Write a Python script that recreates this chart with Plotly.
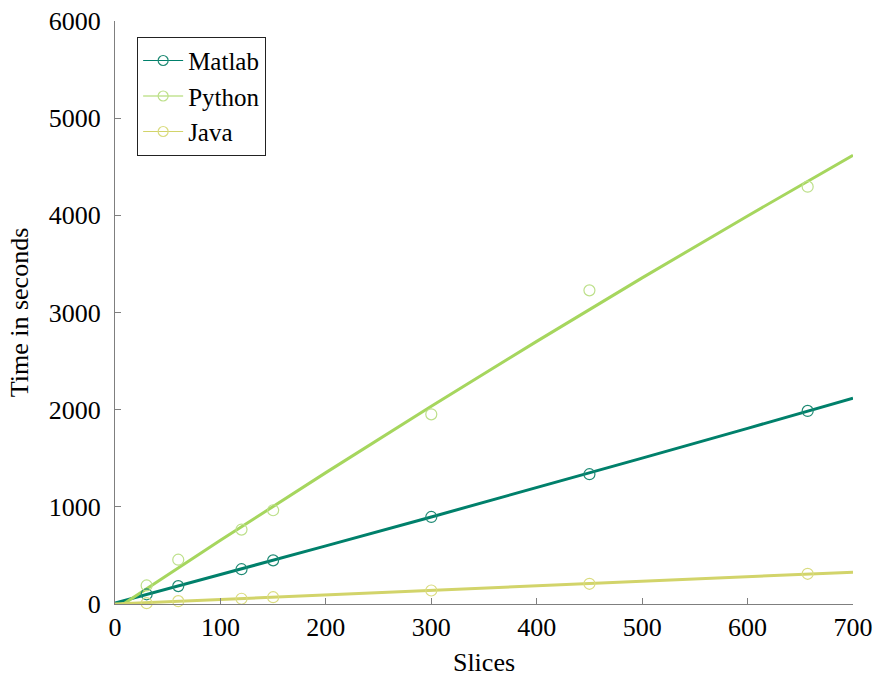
import plotly.graph_objects as go

# Measured data points
slices = [30, 60, 120, 150, 300, 450, 657]
matlab = [100, 184, 358, 449, 896, 1336, 1987]
python = [191, 456, 766, 965, 1952, 3228, 4295]
java = [8, 29, 54, 70, 139, 208, 311]

# Fit curves
fit_x = [0, 100, 200, 300, 400, 500, 600, 700]
matlab_fit = [10, 302, 598, 896, 1197, 1501, 1808, 2118]
python_fit = [-57, 655, 1352, 2035, 2703, 3356, 3994, 4618]
java_fit = [0, 47, 94, 141, 188, 235, 282, 328]

names = ["Matlab", "Python", "Java"]
line_colors = ["#00806b", "#a6d65e", "#d2d46a"]
mark_colors = ["#1f8a74", "#bde08a", "#dadc80"]

FONT = "Liberation Serif, Times New Roman, serif"
fig = go.Figure()

series = [matlab, python, java]
fits = [matlab_fit, python_fit, java_fit]

for name, ys, fy, lc, mc in zip(names, series, fits, line_colors, mark_colors):
    fig.add_trace(go.Scatter(x=fit_x, y=fy, mode="lines",
                             line=dict(color=lc, width=3),
                             showlegend=False, hoverinfo="skip"))
for name, ys, fy, lc, mc in zip(names, series, fits, line_colors, mark_colors):
    fig.add_trace(go.Scatter(x=slices, y=ys, mode="markers",
                             marker=dict(symbol="circle-open", size=11,
                                         color=mc, line=dict(width=1.2, color=mc)),
                             showlegend=False, cliponaxis=False))
for name, lc, mc in zip(names, line_colors, mark_colors):
    fig.add_trace(go.Scatter(x=[None], y=[None], mode="lines+markers", name=name,
                             line=dict(color=lc, width=1.2),
                             marker=dict(symbol="circle-open", size=10,
                                         color=mc, line=dict(width=1.2, color=mc))))

axis_common = dict(
    showgrid=False, zeroline=False, showline=True, linecolor="#7f7f7f",
    linewidth=1.3, ticks="inside", ticklen=6, tickwidth=1, tickcolor="#7f7f7f",
    tickfont=dict(family=FONT, size=26, color="black"), mirror=False,
    automargin=False,
)

fig.update_layout(
    width=877, height=677,
    margin=dict(l=115, r=24, t=21, b=73),
    paper_bgcolor="white", plot_bgcolor="white",
    font=dict(family=FONT, size=26, color="black"),
    xaxis=dict(range=[0, 700], tickvals=[0, 100, 200, 300, 400, 500, 600, 700],
               title=dict(text="Slices", font=dict(family=FONT, size=26), standoff=14),
               ticklabelstandoff=0, **axis_common),
    yaxis=dict(range=[0, 6000], tickvals=[0, 1000, 2000, 3000, 4000, 5000, 6000],
               title=dict(text="Time in seconds", font=dict(family=FONT, size=26), standoff=12),
               ticklabelstandoff=8, **axis_common),
    legend=dict(x=0.03, y=0.973, xanchor="left", yanchor="top",
                bgcolor="white", bordercolor="#222222", borderwidth=1,
                font=dict(family=FONT, size=25, color="black"),
                tracegroupgap=0, itemwidth=40),
    showlegend=True,
)

fig.write_html("out.html")
